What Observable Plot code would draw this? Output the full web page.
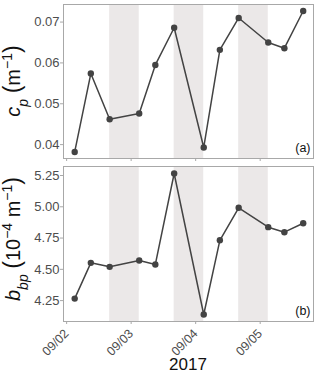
<!DOCTYPE html>
<html>
<head>
<meta charset="utf-8">
<script src="https://cdn.jsdelivr.net/npm/d3@7"></script>
<script src="https://cdn.jsdelivr.net/npm/@observablehq/plot@0.6"></script>
<style>
  html, body { margin: 0; padding: 0; background: #fff; }
  #chart { position: relative; width: 320px; height: 375px; font-family: "Liberation Sans", Arial, sans-serif; }
  #chart svg { display: block; position: absolute; left: 0; }
</style>
</head>
<body>
<div id="chart"></div>
<script>
// ---- data ----
const times = [
  "2017-09-02T03:00Z", "2017-09-02T09:00Z", "2017-09-02T16:00Z",
  "2017-09-03T03:00Z", "2017-09-03T09:00Z", "2017-09-03T16:00Z",
  "2017-09-04T03:00Z", "2017-09-04T09:00Z", "2017-09-04T16:00Z",
  "2017-09-05T03:00Z", "2017-09-05T09:00Z", "2017-09-05T16:00Z"
];
const cp = [0.0382, 0.0574, 0.0462, 0.0476, 0.0595, 0.0686, 0.0393, 0.0632, 0.0710, 0.0650, 0.0636, 0.0727];
const bbp = [4.266, 4.552, 4.520, 4.571, 4.539, 5.266, 4.139, 4.732, 4.992, 4.837, 4.797, 4.868];
const nightStart = ["2017-09-02T16:00Z", "2017-09-03T16:00Z", "2017-09-04T16:00Z"];
const nightEnd   = ["2017-09-03T03:00Z", "2017-09-04T03:00Z", "2017-09-05T03:00Z"];
const xTicks = ["2017-09-02T00:00Z", "2017-09-03T00:00Z", "2017-09-04T00:00Z", "2017-09-05T00:00Z"];
const cpTicks = [0.04, 0.05, 0.06, 0.07];
const bbpTicks = [4.25, 4.50, 4.75, 5.00, 5.25];
const xDomain = ["2017-09-01T22:50Z", "2017-09-05T19:50Z"];

const rows = times.map((t, i) => ({t: new Date(t), cp: cp[i], bbp: bbp[i]}));
const nights = nightStart.map((s, i) => ({x1: new Date(s), x2: new Date(nightEnd[i])}));
const ticks = xTicks.map(d => new Date(d));

const border = "#a8a8a8";
const tickText = "#4d4d4d";
const lineCol = "#434343";
const font = "Liberation Sans, Arial, sans-serif";

function panel(key, yDomain, yTicks, height, mBottom, showLabels, tag) {
  return Plot.plot({
    width: 320,
    height: height,
    marginLeft: 63,
    marginRight: 7,
    marginTop: 4,
    marginBottom: mBottom,
    style: {fontFamily: font, fontSize: "13px", background: "transparent", overflow: "visible"},
    x: {type: "utc", domain: xDomain.map(d => new Date(d))},
    y: {domain: yDomain},
    marks: [
      Plot.rect(nights, {x1: "x1", x2: "x2", fill: "#ebe8e8"}),
      Plot.frame({stroke: border, strokeWidth: 1}),
      Plot.axisY({ticks: yTicks, tickFormat: d3.format(".2f"), tickSize: 3, tickPadding: 1,
                  stroke: border, fill: tickText, label: null, fontSize: 13}),
      showLabels
        ? Plot.axisX({ticks: ticks, tickFormat: d3.utcFormat("%m/%d"), tickSize: 3, tickPadding: 7,
                      tickRotate: -45, stroke: border, fill: tickText, label: null, fontSize: 12.5})
        : Plot.axisX({ticks: ticks, tickFormat: () => "", tickSize: 3, stroke: border, label: null}),
      Plot.line(rows, {x: "t", y: key, stroke: lineCol, strokeWidth: 1.5}),
      Plot.dot(rows, {x: "t", y: key, r: 3.2, fill: lineCol, stroke: "none"}),
      Plot.text([tag], {text: d => d, frameAnchor: "bottom-right", dx: -3, dy: -7, fontSize: 12.5, fill: "#111"})
    ]
  });
}

const root = document.getElementById("chart");
const a = panel("cp", [0.0366, 0.0743], cpTicks, 162, 4, false, "(a)");
a.style.top = "0px";
root.appendChild(a);
const b = panel("bbp", [4.083, 5.322], bbpTicks, 213, 54, true, "(b)");
b.style.top = "162px";
root.appendChild(b);

// y-axis titles with sub/superscripts
function yTitle(svg, cy, parts) {
  const t = d3.select(svg).append("text")
    .attr("transform", `translate(20,${cy}) rotate(-90)`)
    .attr("text-anchor", "middle")
    .attr("font-family", font)
    .attr("font-size", 20)
    .attr("fill", "#111");
  parts.forEach(p => {
    const s = t.append("tspan").text(p.t);
    if (p.i) s.attr("font-style", "italic");
    if (p.sub) s.attr("baseline-shift", "sub").attr("font-size", 14);
    if (p.sup) s.attr("baseline-shift", "super").attr("font-size", 14);
    if (p.big) s.attr("font-size", 23);
  });
}
yTitle(a, 81, [{t: "c", i: true}, {t: "p", i: true, sub: true}, {t: " "}, {t: "(", big: true}, {t: "m"}, {t: "−1", sup: true}, {t: ")", big: true}]);
yTitle(b, 77, [{t: "b", i: true}, {t: "bp", i: true, sub: true}, {t: " "}, {t: "(", big: true}, {t: "10"}, {t: "−4", sup: true}, {t: " m"}, {t: "−1", sup: true}, {t: ")", big: true}]);

d3.select(b).append("text")
  .attr("x", 188).attr("y", 208)
  .attr("text-anchor", "middle")
  .attr("font-family", font)
  .attr("font-size", 17)
  .attr("fill", "#111")
  .text("2017");
</script>
</body>
</html>
